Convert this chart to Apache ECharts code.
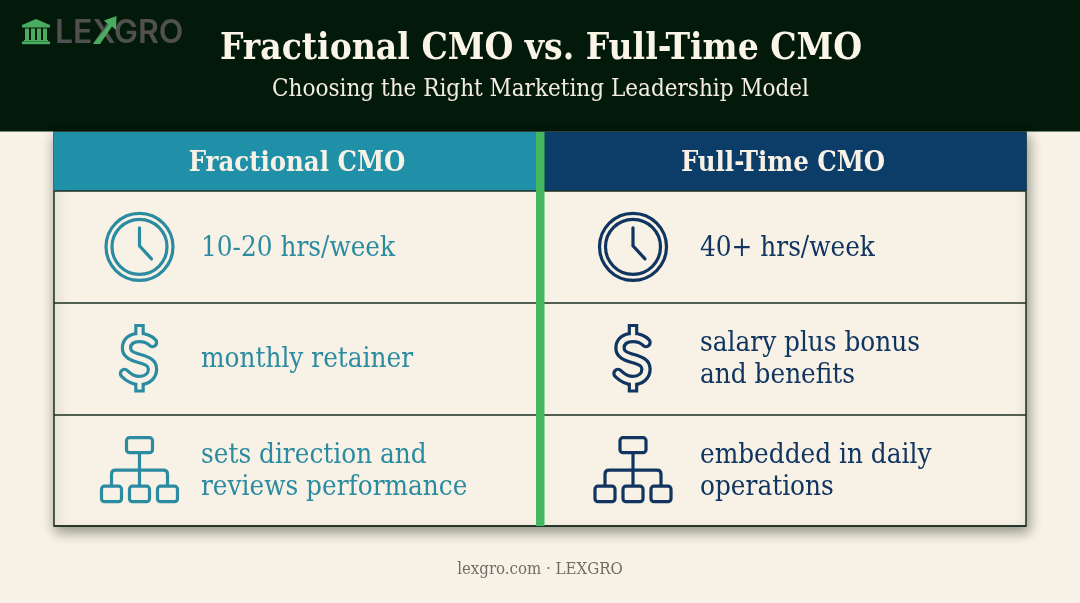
<!DOCTYPE html>
<html><head><meta charset="utf-8">
<style>html,body{margin:0;padding:0;background:#f8f2e6}#c{width:1080px;height:603px}</style>
<script src="https://cdn.jsdelivr.net/npm/echarts@6/dist/echarts.min.js"></script>
</head><body><div id="c"></div>
<script>
const pageTitle = 'Fractional CMO vs. Full-Time CMO';
const pageSubtitle = 'Choosing the Right Marketing Leadership Model';
const brandName = 'LEXGRO';
const footerText = 'lexgro.com · LEXGRO';
const columns = ['Fractional CMO', 'Full-Time CMO'];
const rowKeys = ['hours', 'pay', 'role'];
const fractionalValues = ['10-20 hrs/week', 'monthly retainer', 'sets direction and\nreviews performance'];
const fullTimeValues = ['40+ hrs/week', 'salary plus bonus\nand benefits', 'embedded in daily\noperations'];

const SERIF = '"DejaVu Serif Condensed","DejaVu Serif",serif';
const CREAM = '#f8f2e6', DARK = '#031a0a', LINE = '#1c2e20', GREEN = '#4aac5e';
const HEAD = ['#2090a8', '#0c3c68'], INK = ['#2b8ba1', '#103560'];
const ICON_DX = [-157.5, -150], TEXT_DX = [-96, -83];
const valuesByCol = [fractionalValues, fullTimeValues];

const DOLLAR_S = 'M13,-16C10,-19 5,-21 0,-21C-8,-21 -13,-17 -13,-10.5C-13,-4 -7,-2 0,0C7,2 13,4 13,10.5C13,17 8,22 0,22C-6,22 -11,19 -15,15';
function icon(kind, cx, cy, color) {
  const st = {stroke: color, fill: 'none', lineWidth: 3.2};
  if (kind === 'hours') return [
    {type:'circle', shape:{cx, cy, r:33.5}, style:st},
    {type:'circle', shape:{cx, cy, r:27.5}, style:st},
    {type:'polyline', shape:{points:[[cx,cy-19],[cx,cy-1],[cx+12,cy+12]]}, style:{...st, lineCap:'round'}}
  ];
  if (kind === 'pay') {
    const layer = (c, w, sw, a, b) => [
      {type:'line', shape:{x1:cx,y1:cy-a,x2:cx,y2:cy-19}, style:{stroke:c, lineWidth:sw}},
      {type:'line', shape:{x1:cx,y1:cy+20,x2:cx,y2:cy+b}, style:{stroke:c, lineWidth:sw}},
      {type:'path', shape:{pathData:DOLLAR_S, x:cx-15, y:cy-21, width:28, height:43}, style:{stroke:c, fill:'none', lineWidth:w, lineCap:'round', lineJoin:'round'}}
    ];
    return layer(color, 11.5, 10.5, 34.5, 34).concat(layer(CREAM, 5, 4.2, 31.5, 31));
  }
  const box = (x, y, w, h) => ({type:'rect', shape:{x, y, width:w, height:h, r:3}, style:st});
  const top = cy - 32.5, bot = cy + 16;
  return [
    box(cx-13, top, 26, 15),
    box(cx-38, bot, 20, 15.5), box(cx-10, bot, 20, 15.5), box(cx+18, bot, 20, 15.5),
    {type:'line', shape:{x1:cx,y1:top+15,x2:cx,y2:bot}, style:st},
    {type:'path', shape:{pathData:'M0,16V4Q0,0 4,0H52Q56,0 56,4V16', x:cx-28, y:cy, width:56, height:16}, style:st}
  ];
}
function renderItem(params, api) {
  const col = api.value(0), row = api.value(1);
  const c = api.coord([col, row]);
  const color = INK[col];
  const children = icon(rowKeys[row], c[0] + ICON_DX[col], c[1], color);
  children.push({type:'text', style:{x:c[0]+TEXT_DX[col], y:c[1]+1.5, text:valuesByCol[col][row],
    fill:color, font:'400 27.6px '+SERIF, lineHeight:32, align:'left', verticalAlign:'middle'}});
  return {type:'group', children};
}
const cells = [];
columns.forEach((_, i) => rowKeys.forEach((_, j) => cells.push([i, j])));

const bankBars = [[25,28.5,4,11.5],[31,28.5,4,11.5],[37,28.5,4,11.5],[43,28.5,4,11.5],[24,40,24,1.5],[22,41.5,28,2.7]];
const chart = echarts.init(document.getElementById('c'));
chart.setOption({
  animation:false, backgroundColor:CREAM,
  grid:{left:54, right:54, top:191, bottom:77},
  xAxis:{type:'category', position:'top', data:columns, axisTick:{show:false}, axisLine:{show:false},
    splitLine:{show:false},
    axisLabel:{margin:14, color:CREAM, fontFamily:SERIF, fontWeight:'bold', fontSize:27.2}},
  yAxis:{type:'category', inverse:true, data:rowKeys, axisLabel:{show:false}, axisTick:{show:false}, axisLine:{show:false},
    splitLine:{show:true, lineStyle:{color:LINE, width:1.5}}},
  series:[{type:'custom', data:cells, renderItem, clip:false, z:3, encode:{x:0,y:1}}],
  graphic:{elements:[
    {type:'rect', z:-3, shape:{x:0,y:0,width:1080,height:131}, style:{fill:DARK}},
    {type:'line', z:-3, shape:{x1:0,y1:131.5,x2:1080,y2:131.5}, style:{stroke:'#6f8a80', lineWidth:1}},
    {type:'rect', z:-3, shape:{x:54,y:132,width:972,height:394}, style:{fill:CREAM, stroke:LINE, lineWidth:1.5, shadowBlur:12, shadowOffsetX:2, shadowOffsetY:5, shadowColor:'rgba(20,30,20,.45)'}},
    {type:'rect', z:-2, shape:{x:53.5,y:132,width:483,height:59}, style:{fill:HEAD[0]}},
    {type:'rect', z:-2, shape:{x:544,y:132,width:482.5,height:59}, style:{fill:HEAD[1]}},
    {type:'rect', z:6, shape:{x:536,y:132,width:8.5,height:394}, style:{fill:'#44b85e'}},
    {type:'text', z:6, style:{x:541,y:49.5,text:pageTitle,align:'center',verticalAlign:'middle',fill:'#fbf5e8',font:'bold 36.8px '+SERIF}},
    {type:'text', z:6, style:{x:540.5,y:90,text:pageSubtitle,align:'center',verticalAlign:'middle',fill:'#f3eddf',font:'400 24px '+SERIF}},
    {type:'text', z:6, style:{x:540,y:570,text:footerText,align:'center',verticalAlign:'middle',fill:'#6c6e66',font:'400 16.7px '+SERIF}},
    {type:'text', z:6, style:{x:55,y:33,text:brandName,align:'left',verticalAlign:'middle',fill:'#50504e',font:'600 32px Inter,Lato,sans-serif'}},
    {type:'polygon', z:7, shape:{points:[[93,44],[108.5,24.5],[104,20.5],[116.5,16],[116,30],[112,26.5],[100,44]]}, style:{fill:GREEN}},
    {type:'polygon', z:7, shape:{points:[[36,19],[50,25],[50,27.5],[22,27.5],[22,25]]}, style:{fill:GREEN}},
    ...bankBars.map(b => ({type:'rect', z:7, shape:{x:b[0],y:b[1],width:b[2],height:b[3]}, style:{fill:GREEN}}))
  ]}
});
</script></body></html>
